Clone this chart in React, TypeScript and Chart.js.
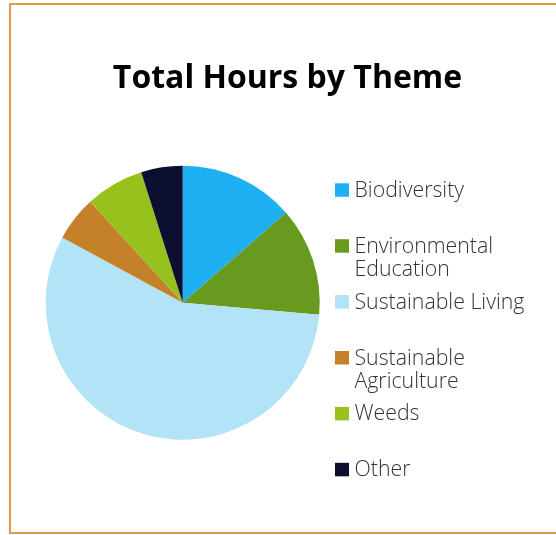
import React, { useEffect, useRef } from "react";
import { Chart, registerables, layouts } from "chart.js";

Chart.register(...registerables);

const categories = [
  "Biodiversity",
  "Environmental Education",
  "Sustainable Living",
  "Sustainable Agriculture",
  "Weeds",
  "Other",
];
const hours = [136, 128, 565, 53, 69, 49];
const colors = ["#1EB0F2", "#699A20", "#B3E3F6", "#C5812A", "#97C11C", "#0C0F30"];
const titleText = "Total Hours by Theme";

const FONT = "'Open Sans', 'Noto Sans', sans-serif";

const sideLegendPlugin = {
  id: "sideLegend",
  beforeInit(chart: any) {
    const box: any = {
      position: "right",
      weight: 1000,
      fullSize: false,
      options: {},
      left: 0,
      top: 0,
      right: 0,
      bottom: 0,
      width: 0,
      height: 0,
      isHorizontal() {
        return false;
      },
      update(_maxW: number, maxH: number) {
        this.width = 209.6;
        this.height = maxH;
      },
      draw() {
        const ctx = chart.ctx;
        const labels: string[] = chart.data.labels;
        const bg: string[] = chart.data.datasets[0].backgroundColor;
        const boxX = this.left - 11.4;
        const textX = boxX + 19.5;
        const maxTextW = 195;
        const lineH = 23.5;
        const step = 55.9;
        ctx.save();
        ctx.font = `300 21.3px ${FONT}`;
        ctx.textBaseline = "alphabetic";
        ctx.textAlign = "left";
        labels.forEach((label, i) => {
          const top = this.top + 17.6 + i * step;
          ctx.fillStyle = bg[i];
          ctx.fillRect(boxX, top, 14, 13.5);
          const words = label.split(" ");
          const lines: string[] = [];
          let cur = "";
          for (const w of words) {
            const test = cur ? cur + " " + w : w;
            if (ctx.measureText(test).width > maxTextW && cur) {
              lines.push(cur);
              cur = w;
            } else {
              cur = test;
            }
          }
          if (cur) lines.push(cur);
          ctx.fillStyle = "#333333";
          lines.forEach((ln, j) => {
            ctx.fillText(ln, textX, top + 13.5 + j * lineH);
          });
        });
        ctx.restore();
      },
    };
    layouts.addBox(chart, box);
  },
};

export default function App() {
  const canvasRef = useRef<HTMLCanvasElement | null>(null);

  useEffect(() => {
    document.body.style.margin = "0";
    document.body.style.overflow = "hidden";
    const canvas = canvasRef.current;
    if (!canvas) return;
    const chart = new Chart(canvas, {
      type: "pie",
      data: {
        labels: categories,
        datasets: [
          {
            data: hours,
            backgroundColor: colors,
            borderWidth: 0,
          },
        ],
      },
      options: {
        animation: false,
        responsive: false,
        maintainAspectRatio: false,
        layout: { padding: { left: 19, right: 0, top: 0, bottom: 95.3 } },
        plugins: {
          legend: { display: false },
          tooltip: { enabled: false },
          title: {
            display: true,
            text: titleText,
            color: "#000000",
            font: { family: FONT, size: 32, weight: "bold", lineHeight: 1.2 },
            padding: { top: 59.2, bottom: 68.1 },
          },
        },
      },
      plugins: [sideLegendPlugin],
    });
    return () => chart.destroy();
  }, []);

  return (
    <div style={{ position: "relative", width: 556, height: 535, overflow: "hidden" }}>
      <div
        style={{
          position: "absolute",
          left: 9,
          top: 3,
          width: 600,
          height: 531,
          boxSizing: "border-box",
          border: "2px solid #E29A47",
        }}
      />
      <canvas
        ref={canvasRef}
        width={556}
        height={535}
        style={{ position: "absolute", left: 0, top: 0, width: 556, height: 535 }}
      />
    </div>
  );
}
